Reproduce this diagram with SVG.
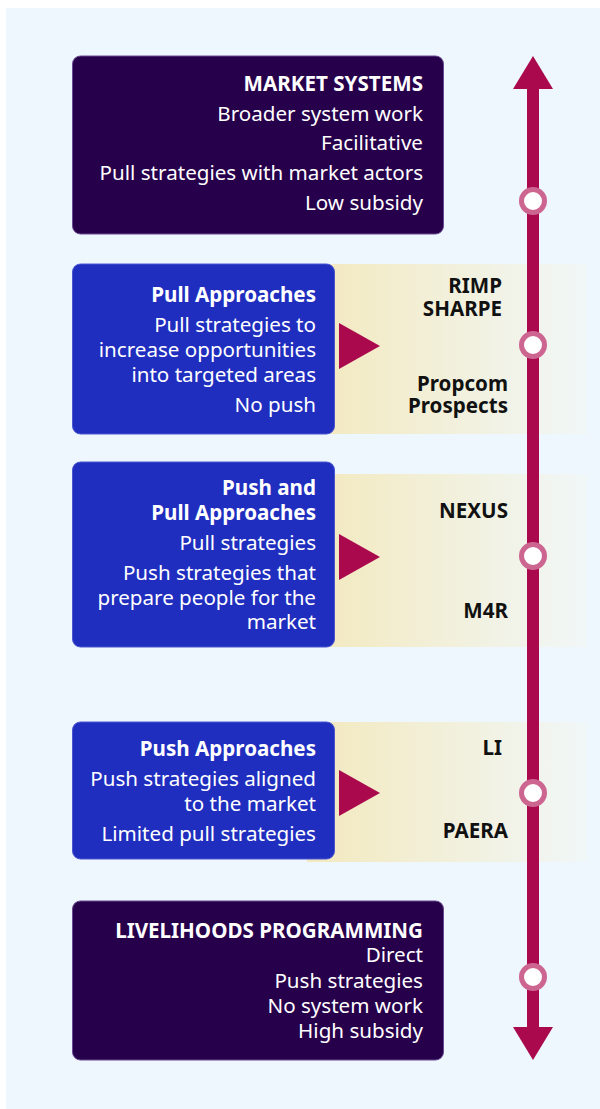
<svg xmlns="http://www.w3.org/2000/svg" width="600" height="1109" viewBox="0 0 600 1109">
<defs>
<linearGradient id="band" x1="0" y1="0" x2="1" y2="0">
<stop offset="0" stop-color="#F3E9C0"/>
<stop offset="0.15" stop-color="#F3EBC6"/>
<stop offset="1" stop-color="#F1F7F8"/>
</linearGradient>
</defs>
<style>
text{font-family:"Noto Sans","Open Sans","Liberation Sans",sans-serif;font-size:20.6px;text-anchor:end}
.w{fill:#FFFFFF}
.b{font-weight:bold}
.k{fill:#111111;font-weight:bold}
.dark{fill:#27004C;stroke:#6A4A90;stroke-width:1}
.blue{fill:#1F2EBF;stroke:#4A56D0;stroke-width:1}
.tri{fill:#AA0A4D}
.dot{fill:#FFFFFF;stroke:#CC6690;stroke-width:5}
</style>
<rect x="6" y="8" width="594" height="1101" fill="#EEF7FE"/>
<g id="bands">
<rect x="307" y="264" width="280" height="170" fill="url(#band)"/>
<rect x="307" y="474" width="280" height="173" fill="url(#band)"/>
<rect x="307" y="722" width="280" height="140" fill="url(#band)"/>
</g>
<g id="connectors">
<line x1="533" y1="86" x2="533" y2="1030" stroke="#AA0A4D" stroke-width="12"/>
<polygon points="533,56 553,89 513,89" fill="#AA0A4D"/>
<polygon points="533,1060 553,1027 513,1027" fill="#AA0A4D"/>
<circle class="dot" cx="533" cy="201" r="11.5"/>
<circle class="dot" cx="533" cy="345" r="11.5"/>
<circle class="dot" cx="533" cy="556" r="11.5"/>
<circle class="dot" cx="533" cy="793" r="11.5"/>
<circle class="dot" cx="533" cy="977" r="11.5"/>
<polygon class="tri" points="339,323 380,346 339,369"/>
<polygon class="tri" points="339,534 380,557 339,580"/>
<polygon class="tri" points="339,770 380,793 339,816"/>
</g>
<g id="market-systems">
<rect class="dark" x="72.5" y="56" width="371" height="178" rx="8"/>
<text class="w b" x="423" y="91">MARKET SYSTEMS</text>
<text class="w" x="423" y="121">Broader system work</text>
<text class="w" x="423" y="150">Facilitative</text>
<text class="w" x="423" y="180">Pull strategies with market actors</text>
<text class="w" x="423" y="210">Low subsidy</text>
</g>
<g id="pull">
<rect class="blue" x="72.5" y="264" width="262" height="170" rx="8"/>
<text class="w b" x="316" y="302">Pull Approaches</text>
<text class="w" x="316" y="332">Pull strategies to</text>
<text class="w" x="316" y="357">increase opportunities</text>
<text class="w" x="316" y="382">into targeted areas</text>
<text class="w" x="316" y="412">No push</text>
<text class="k" x="502" y="293">RIMP</text>
<text class="k" x="502" y="316">SHARPE</text>
<text class="k" x="508" y="391">Propcom</text>
<text class="k" x="508" y="413">Prospects</text>
</g>
<g id="push-pull">
<rect class="blue" x="72.5" y="462" width="262" height="185" rx="8"/>
<text class="w b" x="316" y="495">Push and</text>
<text class="w b" x="316" y="520">Pull Approaches</text>
<text class="w" x="316" y="550">Pull strategies</text>
<text class="w" x="316" y="580">Push strategies that</text>
<text class="w" x="316" y="605">prepare people for the</text>
<text class="w" x="316" y="629">market</text>
<text class="k" x="508" y="518">NEXUS</text>
<text class="k" x="508" y="618">M4R</text>
</g>
<g id="push">
<rect class="blue" x="72.5" y="722" width="262" height="137" rx="8"/>
<text class="w b" x="316" y="756">Push Approaches</text>
<text class="w" x="316" y="786">Push strategies aligned</text>
<text class="w" x="316" y="811">to the market</text>
<text class="w" x="316" y="841">Limited pull strategies</text>
<text class="k" x="502" y="755">LI</text>
<text class="k" x="508" y="838">PAERA</text>
</g>
<g id="livelihoods">
<rect class="dark" x="72.5" y="901" width="371" height="159" rx="8"/>
<text class="w b" x="423" y="938">LIVELIHOODS PROGRAMMING</text>
<text class="w" x="423" y="962">Direct</text>
<text class="w" x="423" y="988">Push strategies</text>
<text class="w" x="423" y="1013">No system work</text>
<text class="w" x="423" y="1038">High subsidy</text>
</g>
</svg>
